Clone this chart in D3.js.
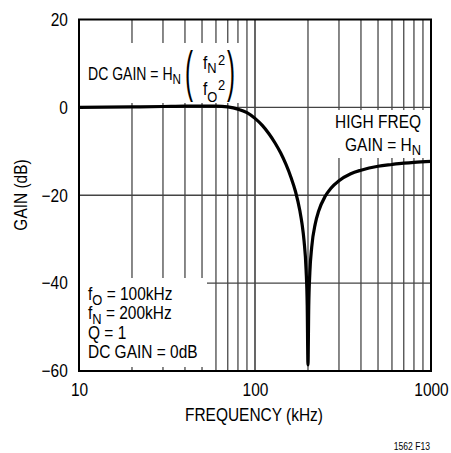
<!DOCTYPE html>
<html>
<head>
<meta charset="utf-8">
<script src="https://cdn.jsdelivr.net/npm/d3@7"></script>
<style>
  body { margin: 0; background: #fff; }
  svg text { font-family: "Liberation Sans", Arial, sans-serif; fill: #000; }
</style>
</head>
<body>
<div id="chart"></div>
<script>
// notch response
var freq = [10, 20, 30, 40, 50, 60, 70, 80, 90, 100, 110, 120, 130, 140, 150, 160, 170, 180, 185, 190, 195, 198,
            200, 202, 205, 210, 220, 230, 250, 270, 300, 350, 400, 500, 600, 700, 800, 1000];
var gain = [0.0, 0.1, 0.2, 0.3, 0.3, 0.3, 0.1, -0.4, -1.2, -2.5, -4.1, -6.0, -8.1, -10.4, -13.0, -15.9, -19.2, -23.6, -26.5, -30.4, -36.8, -45.0,
            -58.6, -45.3, -37.5, -31.8, -26.5, -23.6, -20.3, -18.4, -16.7, -15.1, -14.3, -13.4, -13.0, -12.7, -12.5, -12.3];
var xTicks = [10, 100, 1000];
var yTicks = [-60, -40, -20, 0, 20];

var width = 451, height = 453;
var pl = 79, pr = 431, pt = 19.5, pb = 371;
var nar = 0.86; // narrow the sans face to look like the condensed original

var svg = d3.select("#chart").append("svg")
    .attr("width", width)
    .attr("height", height);

var x = d3.scaleLog().domain([10, 1000]).range([pl, pr]);
var y = d3.scaleLinear().domain([-60, 20]).range([pb, pt]);

function txt(px, py, size, anchor, k){
  return svg.append("text")
    .attr("transform", "translate(" + px + "," + py + ") scale(" + (k || nar) + ",1)")
    .attr("text-anchor", anchor || "start")
    .style("font-size", size + "px");
}

// grid
var grid = svg.append("g");
grid.selectAll("line.v")
  .data(x.ticks().filter(function(d){ return d > 10 && d < 1000; }))
  .enter().append("line")
    .attr("x1", function(d){ return x(d); })
    .attr("x2", function(d){ return x(d); })
    .attr("y1", pt).attr("y2", pb)
    .attr("stroke", function(d){ return d === 100 ? "#000" : "#555"; })
    .attr("stroke-width", function(d){ return d === 100 ? 1.2 : 1.4; });

grid.selectAll("line.h")
  .data([-40, -20, 0])
  .enter().append("line")
    .attr("x1", pl).attr("x2", pr)
    .attr("y1", function(d){ return y(d); })
    .attr("y2", function(d){ return y(d); })
    .attr("stroke", "#444")
    .attr("stroke-width", 1.4);

// white boxes behind the notes
var boxes = [[80, 43, 162, 60], [80, 278, 127, 89], [334, 110, 96, 48]];
svg.append("g").selectAll("rect")
  .data(boxes)
  .enter().append("rect")
    .attr("x", function(d){ return d[0]; })
    .attr("y", function(d){ return d[1]; })
    .attr("width", function(d){ return d[2]; })
    .attr("height", function(d){ return d[3]; })
    .attr("fill", "#fff");

// curve
var pts = freq.map(function(f, i){ return [f, gain[i]]; });
var line = d3.line()
    .x(function(d){ return x(d[0]); })
    .y(function(d){ return y(d[1]); })
    .curve(d3.curveMonotoneX);

svg.append("path")
    .datum(pts)
    .attr("d", line)
    .attr("fill", "none")
    .attr("stroke", "#000")
    .attr("stroke-width", 3.2);

// frame
svg.append("rect")
    .attr("x", pl).attr("y", pt)
    .attr("width", pr - pl).attr("height", pb - pt)
    .attr("fill", "none")
    .attr("stroke", "#000")
    .attr("stroke-width", 2);

// axes (labels only)
var xAxis = svg.append("g")
    .attr("transform", "translate(0," + pb + ")")
    .call(d3.axisBottom(x).tickValues(xTicks).tickSize(0).tickPadding(12).tickFormat(d3.format("d")));
var yAxis = svg.append("g")
    .attr("transform", "translate(" + pl + ",0)")
    .call(d3.axisLeft(y).tickValues(yTicks).tickSize(0).tickPadding(13));
[xAxis, yAxis].forEach(function(a){
  a.select(".domain").remove();
  a.selectAll("text")
    .attr("transform", "scale(" + nar + ",1)")
    .attr("fill", "#000")
    .style("font-size", "18px")
    .style("font-family", "'Liberation Sans', Arial, sans-serif");
});

txt(254, 421, 18, "middle").text("FREQUENCY (kHz)");

svg.append("text")
    .attr("transform", "translate(27,195) rotate(-90) scale(" + nar + ",1)")
    .attr("text-anchor", "middle")
    .style("font-size", "18px")
    .text("GAIN (dB)");

txt(430, 450, 10, "end").text("1562 F13");

// DC GAIN note
function sub(t, base, s, dy){
  t.append("tspan").text(base);
  t.append("tspan").attr("dy", dy).style("font-size", "15px").text(s);
  return t;
}
sub(txt(88, 79.5, 18, "start", 0.78), "DC GAIN = H", "N", 4);

svg.append("text").attr("transform", "translate(185,90) scale(1,2.3)")
    .style("font-size", "24px").text("(");
svg.append("text").attr("transform", "translate(227,90) scale(1,2.3)")
    .style("font-size", "24px").text(")");

sub(txt(203, 69, 18), "f", "N", 3.5);
txt(218, 65, 15).text("2");
sub(txt(203, 95, 18), "f", "O", 7);
txt(218, 90, 15).text("2");

// HIGH FREQ note
txt(421, 128, 18, "end").text("HIGH FREQ");
sub(txt(421, 151, 18, "end"), "GAIN = H", "N", 4);

// conditions note
var notes = [["f", "O", " = 100kHz"], ["f", "N", " = 200kHz"], ["Q = 1", "", ""], ["DC GAIN = 0dB", "", ""]];
notes.forEach(function(d, i){
  var t = txt(88, 300 + i * 19.3, 18);
  t.append("tspan").text(d[0]);
  if (d[1]) {
    t.append("tspan").attr("dy", 5).style("font-size", "15px").text(d[1]);
    t.append("tspan").attr("dy", -5).text(d[2]);
  }
});
</script>
</body>
</html>
